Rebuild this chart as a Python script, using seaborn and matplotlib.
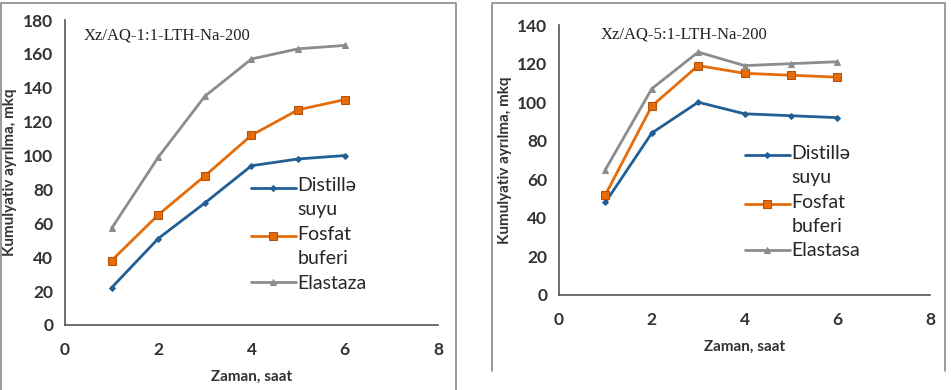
import matplotlib
matplotlib.use("Agg")
import matplotlib.pyplot as plt
from matplotlib.legend_handler import HandlerLine2D
import numpy as np
import pandas as pd
import seaborn as sns

# time, hours
hours = [1, 2, 3, 4, 5, 6]

# left panel: Xz/AQ-1:1-LTH-Na-200
left_distilled = [22, 51, 72, 94, 98, 100]
left_phosphate = [38, 65, 88, 112, 127, 133]
left_elastase = [57, 99, 135, 157, 163, 165]

# right panel: Xz/AQ-5:1-LTH-Na-200
right_distilled = [48, 84, 100, 94, 93, 92]
right_phosphate = [52, 98, 119, 115, 114, 113]
right_elastase = [65, 107, 126, 119, 120, 121]

left_names = ["Distillə\nsuyu", "Fosfat\nbuferi", "Elastaza"]
right_names = ["Distillə\nsuyu", "Fosfat\nbuferi", "Elastasa"]

sns.set_style("white")
plt.rcParams['font.family'] = ['Lato', 'DejaVu Sans']

fig = plt.figure(figsize=(9.51, 3.9), dpi=100)

# panel frames (bottoms are cut off in the reference)
fig.add_artist(plt.Line2D([0.001, 0.001, 0.479, 0.479], [0.0, 0.992, 0.992, 0.0],
                          transform=fig.transFigure, color="#8a8a8a", lw=1.2))
fig.add_artist(plt.Line2D([0.517, 0.517, 0.994, 0.994], [0.05, 0.993, 0.993, 0.05],
                          transform=fig.transFigure, color="#8a8a8a", lw=1.2))

ax1 = fig.add_axes([0.0683, 0.1667, 0.3923, 0.782])
ax2 = fig.add_axes([0.5878, 0.2436, 0.3902, 0.692])

colors = ["#215f94", "#e46c0a", "#8c8c8c"]
markers = ["D", "s", "^"]
msizes = [3, 5.5, 4.5]


class RaisedLine(HandlerLine2D):
    # keep the legend line level with the first line of a two-line label
    def __init__(self, shift, **kw):
        super().__init__(**kw)
        self.shift = shift

    def create_artists(self, legend, orig_handle, xdescent, ydescent, width, height,
                       fontsize, trans):
        return super().create_artists(legend, orig_handle, xdescent,
                                      ydescent - 2 * self.shift, width, height,
                                      fontsize, trans)


def draw(ax, series, names, ymax, label_pos, legend_pos, title):
    rows = []
    for name, vals in zip(names, series):
        for h, v in zip(hours, vals):
            rows.append({"hour": h, "value": v, "series": name})
    df = pd.DataFrame(rows)
    for i, name in enumerate(names):
        sub = df[df["series"] == name]
        sns.lineplot(data=sub, x="hour", y="value", ax=ax, color=colors[i],
                     marker=markers[i], markersize=msizes[i], lw=2,
                     markeredgecolor="#b3500a" if i == 1 else colors[i],
                     markerfacecolor=colors[i], label=name)
    ax.set_xlim(0, 8)
    ax.set_ylim(0, ymax)
    ax.set_xticks([0, 2, 4, 6, 8])
    ax.set_yticks(np.arange(0, ymax + 1, 20))
    ax.set_xticks(np.arange(0, 8.01, 0.4), minor=True)
    ax.set_yticks(np.arange(0, ymax + 1, 4), minor=True)
    ax.tick_params(axis="both", which="major", direction="out", length=5,
                   width=1, color="#555555", labelsize=12.5)
    ax.tick_params(axis="both", which="minor", direction="out", length=3.5,
                   width=0.8, color="#555555")
    ax.tick_params(axis="x", pad=7)
    for lbl in ax.get_xticklabels() + ax.get_yticklabels():
        lbl.set_fontweight("bold")
        lbl.set_color("#333333")
    for side in ["top", "right"]:
        ax.spines[side].set_visible(False)
    for side in ["left", "bottom"]:
        ax.spines[side].set_color("#555555")
        ax.spines[side].set_linewidth(1.2)
    ax.set_xlabel("Zaman, saat", fontsize=11, fontweight="bold", color="#333333", labelpad=9)
    ax.set_ylabel("Kumulyativ ayrılma, mkq", fontsize=11, fontweight="bold", color="#333333",
                  labelpad=4)
    ax.text(label_pos[0], label_pos[1], title, fontsize=12,
            family=["Liberation Serif", "DejaVu Serif"], color="#222222", va="center")
    handles, labels = ax.get_legend_handles_labels()
    hmap = {h: RaisedLine(7.5) for h, l in zip(handles, labels) if "\n" in l}
    leg = ax.legend(handles, labels, handler_map=hmap, loc="upper left",
                    bbox_to_anchor=legend_pos, frameon=False,
                    fontsize=14, handlelength=2.3, handletextpad=0.1, labelspacing=0.4,
                    borderaxespad=0)
    for t in leg.get_texts():
        t.set_linespacing(1.5)
    ax.grid(False)


draw(ax1, [left_distilled, left_phosphate, left_elastase], left_names, 180,
     (0.4, 171), (0.478, 0.51), "Xz/AQ-1:1-LTH-Na-200")
draw(ax2, [right_distilled, right_phosphate, right_elastase], right_names, 140,
     (0.9, 135), (0.48, 0.585), "Xz/AQ-5:1-LTH-Na-200")

fig.savefig("out.png", dpi=100)
